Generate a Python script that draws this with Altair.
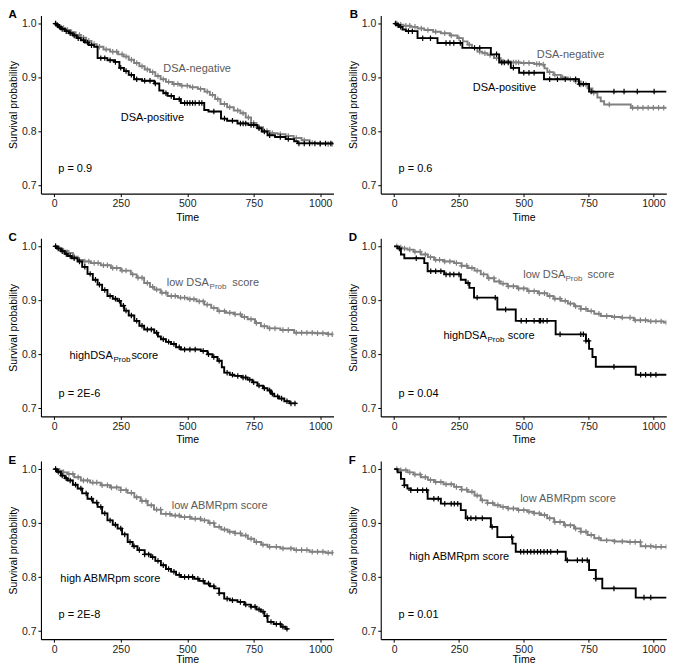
import altair as alt
import pandas as pd

FONT = "Liberation Sans"
GRAY = "#808080"
GRAY_TXT = "#5a5a5a"
BLACK = "#000000"
X_TICKS = [0, 250, 500, 750, 1000]
Y_TICKS = [0.7, 0.8, 0.9, 1.0]

# ---------------- Panel A ----------------
A_NEG_T = [0, 10, 25, 40, 60, 80, 100, 120, 140, 160, 185, 210, 240, 260, 280, 300, 320, 340, 360, 380, 400, 420, 445, 475, 510, 540, 565, 585, 605, 625, 650, 675, 700, 720, 740, 760, 785, 810, 840, 870, 900, 930, 960, 990, 1050]
A_NEG_S = [1.0, 0.996, 0.992, 0.988, 0.984, 0.979, 0.974, 0.968, 0.962, 0.957, 0.952, 0.948, 0.943, 0.939, 0.933, 0.927, 0.921, 0.915, 0.91, 0.903, 0.897, 0.892, 0.888, 0.885, 0.882, 0.879, 0.874, 0.868, 0.86, 0.851, 0.845, 0.839, 0.834, 0.826, 0.816, 0.808, 0.801, 0.797, 0.795, 0.792, 0.788, 0.784, 0.779, 0.777, 0.777]
A_NEG_C = [5, 15, 25, 35, 50, 65, 80, 95, 110, 130, 150, 170, 195, 220, 235, 255, 270, 290, 310, 330, 350, 370, 390, 410, 430, 450, 465, 480, 500, 520, 550, 575, 595, 615, 640, 660, 690, 710, 730, 750, 770, 800, 820, 850, 880, 910, 940, 970, 1000, 1030, 1045]
A_POS_T = [0, 8, 15, 25, 40, 55, 70, 85, 100, 115, 130, 150, 163, 200, 225, 245, 262, 280, 300, 330, 376, 395, 410, 426, 450, 476, 564, 580, 627, 650, 689, 730, 764, 780, 802, 830, 870, 902, 915, 1050]
A_POS_S = [1.0, 0.997, 0.994, 0.99, 0.986, 0.982, 0.978, 0.973, 0.969, 0.965, 0.96, 0.957, 0.936, 0.932, 0.929, 0.918, 0.912, 0.905, 0.897, 0.894, 0.889, 0.876, 0.871, 0.866, 0.86, 0.853, 0.84, 0.837, 0.824, 0.82, 0.815, 0.812, 0.806, 0.8, 0.793, 0.79, 0.786, 0.782, 0.778, 0.778]
A_POS_C = [5, 12, 20, 30, 45, 60, 75, 90, 110, 125, 140, 175, 190, 210, 230, 250, 270, 290, 310, 340, 360, 380, 420, 440, 470, 490, 500, 510, 520, 530, 545, 555, 600, 640, 670, 700, 710, 720, 740, 750, 770, 790, 810, 850, 880, 920, 940, 960, 980, 1000, 1020, 1040]

# ---------------- Panel B ----------------
B_NEG_T = [0, 15, 35, 64, 90, 116, 150, 180, 215, 244, 265, 283, 300, 321, 340, 360, 385, 411, 450, 488, 540, 566, 580, 591, 615, 643, 670, 694, 720, 746, 765, 784, 797, 810, 913, 1083]
B_NEG_S = [1.0, 0.998, 0.996, 0.994, 0.991, 0.988, 0.985, 0.982, 0.978, 0.973, 0.967, 0.961, 0.955, 0.948, 0.945, 0.942, 0.936, 0.93, 0.928, 0.927, 0.925, 0.924, 0.917, 0.91, 0.905, 0.9, 0.897, 0.893, 0.887, 0.88, 0.872, 0.863, 0.856, 0.85, 0.844, 0.844]
B_NEG_C = [10, 25, 45, 60, 80, 105, 130, 160, 195, 220, 250, 290, 330, 350, 370, 395, 420, 440, 460, 470, 480, 500, 520, 550, 560, 575, 600, 620, 650, 680, 700, 720, 740, 770, 830, 920, 940, 960, 980, 1000, 1020, 1040, 1060]
B_POS_T = [0, 10, 19, 32, 45, 90, 167, 263, 373, 405, 450, 482, 578, 713, 752, 1083]
B_POS_S = [1.0, 0.997, 0.994, 0.989, 0.986, 0.973, 0.964, 0.955, 0.943, 0.928, 0.918, 0.909, 0.897, 0.888, 0.874, 0.874]
B_POS_C = [5, 15, 25, 55, 70, 110, 140, 200, 215, 230, 255, 310, 330, 395, 415, 425, 440, 460, 500, 520, 540, 600, 630, 660, 700, 715, 730, 760, 848, 887, 938, 1003]

# ---------------- Panel C ----------------
C_LOW_T = [0, 15, 30, 50, 70, 88, 110, 138, 175, 213, 250, 288, 310, 338, 360, 376, 400, 426, 465, 501, 535, 564, 590, 614, 645, 677, 705, 727, 755, 777, 802, 850, 902, 980, 1030, 1050]
C_LOW_S = [1.0, 0.996, 0.992, 0.988, 0.981, 0.975, 0.972, 0.969, 0.965, 0.96, 0.955, 0.948, 0.942, 0.932, 0.925, 0.92, 0.914, 0.908, 0.905, 0.902, 0.898, 0.892, 0.886, 0.88, 0.877, 0.874, 0.869, 0.865, 0.858, 0.852, 0.848, 0.845, 0.84, 0.839, 0.837, 0.837]
C_LOW_C = [5, 20, 35, 55, 75, 95, 115, 130, 150, 165, 185, 200, 220, 235, 255, 270, 295, 315, 330, 350, 370, 385, 405, 420, 440, 455, 475, 490, 510, 525, 545, 560, 575, 600, 620, 640, 660, 680, 700, 715, 740, 760, 790, 810, 830, 860, 880, 910, 930, 950, 970, 990, 1010, 1030, 1045]
C_HIGH_T = [0, 10, 25, 40, 50, 65, 88, 105, 125, 145, 163, 180, 200, 220, 238, 250, 263, 280, 301, 320, 338, 376, 390, 401, 420, 439, 458, 476, 551, 576, 595, 614, 630, 639, 660, 677, 705, 727, 745, 764, 785, 802, 815, 827, 845, 865, 885, 910]
C_HIGH_S = [1.0, 0.996, 0.991, 0.986, 0.982, 0.978, 0.972, 0.962, 0.949, 0.938, 0.929, 0.919, 0.908, 0.903, 0.899, 0.89, 0.881, 0.872, 0.862, 0.853, 0.846, 0.84, 0.833, 0.828, 0.823, 0.819, 0.813, 0.809, 0.806, 0.8, 0.795, 0.788, 0.776, 0.766, 0.762, 0.76, 0.757, 0.753, 0.748, 0.742, 0.737, 0.733, 0.727, 0.722, 0.718, 0.713, 0.709, 0.709]
C_HIGH_C = [5, 15, 30, 45, 60, 75, 95, 115, 135, 155, 170, 190, 210, 230, 245, 260, 270, 290, 310, 330, 350, 365, 385, 410, 430, 450, 470, 490, 510, 530, 560, 580, 600, 620, 650, 670, 690, 710, 720, 735, 750, 770, 790, 810, 820, 840, 855, 875, 890, 905]

# ---------------- Panel D ----------------
D_LOW_T = [0, 15, 30, 51, 75, 103, 130, 154, 190, 231, 260, 283, 310, 334, 360, 386, 410, 437, 475, 514, 555, 591, 615, 643, 670, 694, 720, 746, 772, 797, 840, 874, 925, 980, 1040, 1083]
D_LOW_S = [1.0, 0.998, 0.996, 0.994, 0.99, 0.985, 0.98, 0.975, 0.972, 0.969, 0.964, 0.96, 0.955, 0.948, 0.941, 0.935, 0.931, 0.926, 0.922, 0.917, 0.913, 0.908, 0.903, 0.899, 0.894, 0.889, 0.884, 0.88, 0.875, 0.871, 0.869, 0.868, 0.863, 0.861, 0.859, 0.858]
D_LOW_C = [10, 25, 40, 60, 80, 100, 120, 140, 160, 175, 195, 215, 240, 260, 280, 300, 320, 345, 365, 385, 405, 420, 440, 460, 480, 500, 520, 540, 560, 580, 600, 620, 640, 660, 680, 700, 720, 740, 760, 790, 820, 850, 880, 910, 930, 950, 970, 990, 1010, 1030, 1050, 1070]
D_HIGH_T = [0, 13, 26, 39, 116, 129, 193, 257, 276, 290, 308, 398, 469, 623, 740, 752, 765, 778, 932, 1083]
D_HIGH_S = [1.0, 0.996, 0.985, 0.978, 0.969, 0.954, 0.948, 0.938, 0.932, 0.923, 0.905, 0.883, 0.862, 0.837, 0.825, 0.81, 0.795, 0.777, 0.762, 0.762]
D_HIGH_C = [20, 85, 141, 160, 180, 200, 215, 230, 250, 285, 320, 390, 430, 490, 510, 540, 560, 565, 575, 590, 640, 720, 730, 740, 750, 848, 951, 970, 990, 1010]

# ---------------- Panel E ----------------
E_LOW_T = [0, 15, 30, 50, 75, 100, 135, 175, 210, 250, 275, 301, 325, 351, 375, 401, 440, 476, 515, 551, 580, 602, 628, 652, 680, 702, 728, 752, 778, 802, 850, 902, 960, 1020, 1050]
E_LOW_S = [1.0, 0.997, 0.994, 0.991, 0.985, 0.979, 0.975, 0.97, 0.966, 0.961, 0.956, 0.948, 0.941, 0.933, 0.925, 0.917, 0.914, 0.911, 0.908, 0.905, 0.9, 0.893, 0.888, 0.884, 0.881, 0.877, 0.871, 0.865, 0.86, 0.856, 0.853, 0.85, 0.847, 0.845, 0.844]
E_LOW_C = [5, 20, 35, 55, 70, 90, 110, 125, 145, 160, 180, 200, 215, 235, 250, 270, 290, 310, 330, 345, 365, 385, 400, 420, 435, 455, 470, 490, 510, 530, 550, 565, 585, 600, 620, 640, 660, 680, 700, 720, 740, 760, 785, 810, 835, 860, 890, 910, 930, 950, 970, 990, 1010, 1030, 1045]
E_HIGH_T = [0, 10, 25, 40, 50, 70, 88, 105, 125, 145, 163, 180, 200, 220, 238, 255, 276, 295, 313, 340, 363, 380, 401, 420, 439, 458, 476, 526, 545, 564, 585, 602, 620, 639, 660, 689, 715, 739, 760, 777, 790, 802, 825, 852, 870, 880]
E_HIGH_S = [1.0, 0.995, 0.988, 0.983, 0.979, 0.971, 0.964, 0.955, 0.945, 0.938, 0.93, 0.918, 0.905, 0.897, 0.89, 0.879, 0.865, 0.857, 0.85, 0.842, 0.837, 0.83, 0.822, 0.815, 0.81, 0.804, 0.8, 0.797, 0.793, 0.788, 0.783, 0.779, 0.77, 0.76, 0.757, 0.754, 0.749, 0.745, 0.74, 0.736, 0.728, 0.717, 0.713, 0.708, 0.704, 0.704]
E_HIGH_C = [5, 15, 30, 45, 60, 80, 100, 120, 140, 160, 175, 190, 210, 230, 250, 265, 285, 300, 320, 340, 355, 370, 390, 410, 430, 450, 470, 490, 505, 520, 540, 560, 580, 600, 620, 650, 670, 700, 720, 740, 755, 770, 785, 800, 815, 835, 850, 860, 875]

# ---------------- Panel F ----------------
F_LOW_T = [0, 20, 51, 75, 103, 130, 154, 190, 231, 260, 283, 310, 334, 360, 386, 410, 437, 475, 514, 540, 566, 590, 617, 655, 694, 720, 746, 772, 797, 850, 900, 951, 1000, 1083]
F_LOW_S = [1.0, 0.998, 0.994, 0.99, 0.985, 0.98, 0.976, 0.972, 0.967, 0.962, 0.958, 0.951, 0.942, 0.937, 0.933, 0.93, 0.927, 0.924, 0.921, 0.918, 0.915, 0.909, 0.902, 0.896, 0.89, 0.884, 0.878, 0.872, 0.868, 0.866, 0.865, 0.857, 0.856, 0.856]
F_LOW_C = [10, 25, 45, 60, 80, 100, 120, 140, 160, 180, 200, 220, 240, 260, 280, 300, 320, 340, 360, 380, 400, 420, 440, 460, 480, 500, 520, 540, 560, 580, 600, 620, 640, 660, 680, 700, 720, 740, 760, 790, 820, 850, 880, 910, 930, 950, 970, 990, 1010, 1030, 1050, 1070]
F_HIGH_T = [0, 13, 26, 39, 51, 64, 129, 180, 257, 276, 373, 398, 456, 469, 662, 752, 778, 803, 932, 1083]
F_HIGH_S = [1.0, 0.994, 0.982, 0.97, 0.964, 0.961, 0.945, 0.936, 0.924, 0.909, 0.893, 0.874, 0.862, 0.847, 0.831, 0.813, 0.797, 0.779, 0.762, 0.762]
F_HIGH_C = [39, 64, 90, 110, 125, 153, 170, 195, 220, 232, 245, 283, 296, 315, 340, 378, 453, 488, 500, 514, 527, 540, 553, 565, 578, 591, 604, 630, 668, 707, 726, 745, 778, 848, 964, 990]

# Text labels: (text, time, survival, colour, font size)
NOTES_A = [("DSA-negative", 410, 0.915, GRAY_TXT, 11), ("DSA-positive", 250, 0.826, BLACK, 11), ("p = 0.9", 15, 0.731, BLACK, 11)]
NOTES_B = [("DSA-negative", 550, 0.941, GRAY_TXT, 11), ("DSA-positive", 303, 0.880, BLACK, 11), ("p = 0.6", 17, 0.730, BLACK, 11)]
NOTES_C = [("low DSA", 423, 0.932, GRAY_TXT, 11), ("Prob", 584, 0.925, GRAY_TXT, 8), ("score", 669, 0.932, GRAY_TXT, 11),
           ("highDSA", 57, 0.797, BLACK, 11), ("Prob", 223, 0.790, BLACK, 8), ("score", 290, 0.797, BLACK, 11),
           ("p = 2E-6", 16, 0.727, BLACK, 11)]
NOTES_D = [("low DSA", 498, 0.9466, GRAY_TXT, 11), ("Prob", 661, 0.9396, GRAY_TXT, 8), ("score", 746, 0.9466, GRAY_TXT, 11),
           ("highDSA", 190, 0.834, BLACK, 11), ("Prob", 360, 0.827, BLACK, 8), ("score", 438, 0.834, BLACK, 11),
           ("p = 0.04", 17, 0.727, BLACK, 11)]
NOTES_E = [("low ABMRpm score", 442, 0.931, GRAY_TXT, 11), ("high ABMRpm score", 23, 0.796, BLACK, 11), ("p = 2E-8", 16, 0.730, BLACK, 11)]
NOTES_F = [("low ABMRpm score", 486, 0.944, GRAY_TXT, 11), ("high ABMRpm score", 58, 0.838, BLACK, 11), ("p = 0.01", 17, 0.730, BLACK, 11)]

PLUS = "M-1,0L1,0M0,-1L0,1"


def step_value(ts, ss, t):
    v = ss[0]
    for ti, si in zip(ts, ss):
        if ti <= t:
            v = si
        else:
            break
    return v


def make_panel(letter, xmin, xmax, width, letter_dx, curves, notes, xtitle_pad):
    xs = alt.Scale(domain=[xmin, xmax], nice=False, zero=False)
    ys = alt.Scale(domain=[0.685, 1.015], nice=False, zero=False)
    xax = alt.Axis(values=X_TICKS, title="Time", format="d", titlePadding=xtitle_pad)
    yax = alt.Axis(values=Y_TICKS, title="Survival probability", format=".1f")
    X = alt.X("t:Q", scale=xs, axis=xax)
    Y = alt.Y("s:Q", scale=ys, axis=yax)
    layers = []
    for ts, ss, cs, col in curves:
        ldf = pd.DataFrame({"t": ts, "s": ss})
        cdf = pd.DataFrame({"t": cs, "s": [step_value(ts, ss, c) for c in cs]})
        layers.append(alt.Chart(ldf).mark_line(interpolate="step-after", color=col, strokeWidth=1.9, clip=True).encode(x=X, y=Y))
        layers.append(alt.Chart(cdf).mark_point(shape=PLUS, size=30, filled=False, color=col, strokeWidth=1.2, opacity=1, clip=True).encode(x=X, y=Y))
    ndf = pd.DataFrame(notes, columns=["label", "t", "s", "col", "fs"])
    layers.append(alt.Chart(ndf).mark_text(align="left", baseline="middle", font=FONT).encode(
        x=X, y=Y, text="label:N", color=alt.Color("col:N", scale=None), size=alt.Size("fs:Q", scale=None)))
    ldf2 = pd.DataFrame({"label": [letter]})
    layers.append(alt.Chart(ldf2).mark_text(align="left", baseline="top", font=FONT, fontSize=11.5, fontWeight="bold", color="black").encode(
        x=alt.value(letter_dx), y=alt.value(-6.3), text="label:N"))
    return alt.layer(*layers).properties(width=width, height=178.4)


W_L, W_R = 293, 286
pA = make_panel("A", -50, 1050, W_L, -32.5, [(A_NEG_T, A_NEG_S, A_NEG_C, GRAY), (A_POS_T, A_POS_S, A_POS_C, BLACK)], NOTES_A, 3)
pB = make_panel("B", -52, 1050, W_R, -31, [(B_NEG_T, B_NEG_S, B_NEG_C, GRAY), (B_POS_T, B_POS_S, B_POS_C, BLACK)], NOTES_B, 3)
pC = make_panel("C", -50, 1050, W_L, -32.5, [(C_LOW_T, C_LOW_S, C_LOW_C, GRAY), (C_HIGH_T, C_HIGH_S, C_HIGH_C, BLACK)], NOTES_C, 3)
pD = make_panel("D", -52, 1050, W_R, -32, [(D_LOW_T, D_LOW_S, D_LOW_C, GRAY), (D_HIGH_T, D_HIGH_S, D_HIGH_C, BLACK)], NOTES_D, 3)
pE = make_panel("E", -50, 1050, W_L, -32.5, [(E_LOW_T, E_LOW_S, E_LOW_C, GRAY), (E_HIGH_T, E_HIGH_S, E_HIGH_C, BLACK)], NOTES_E, 0)
pF = make_panel("F", -52, 1050, W_R, -32, [(F_LOW_T, F_LOW_S, F_LOW_C, GRAY), (F_HIGH_T, F_HIGH_S, F_HIGH_C, BLACK)], NOTES_F, 0)

chart = alt.concat(pA, pB, pC, pD, pE, pF, columns=2, spacing={"row": 44.1, "column": 47.3}, bounds="flush").properties(
    padding={"left": 0, "top": 0, "right": 0, "bottom": 0}
).configure_view(stroke=None).configure_axis(
    grid=False, domainColor="black", domainWidth=1.1, tickColor="black", tickSize=3, tickWidth=1,
    labelFont=FONT, titleFont=FONT, labelFontSize=10.5, titleFontSize=10.5, titleFontWeight="normal",
    labelColor="#222222", titleColor="black", labelPadding=2
).configure_axisY(titlePadding=2.5)

chart.save("out.html", embed_options={"renderer": "svg", "actions": False})
